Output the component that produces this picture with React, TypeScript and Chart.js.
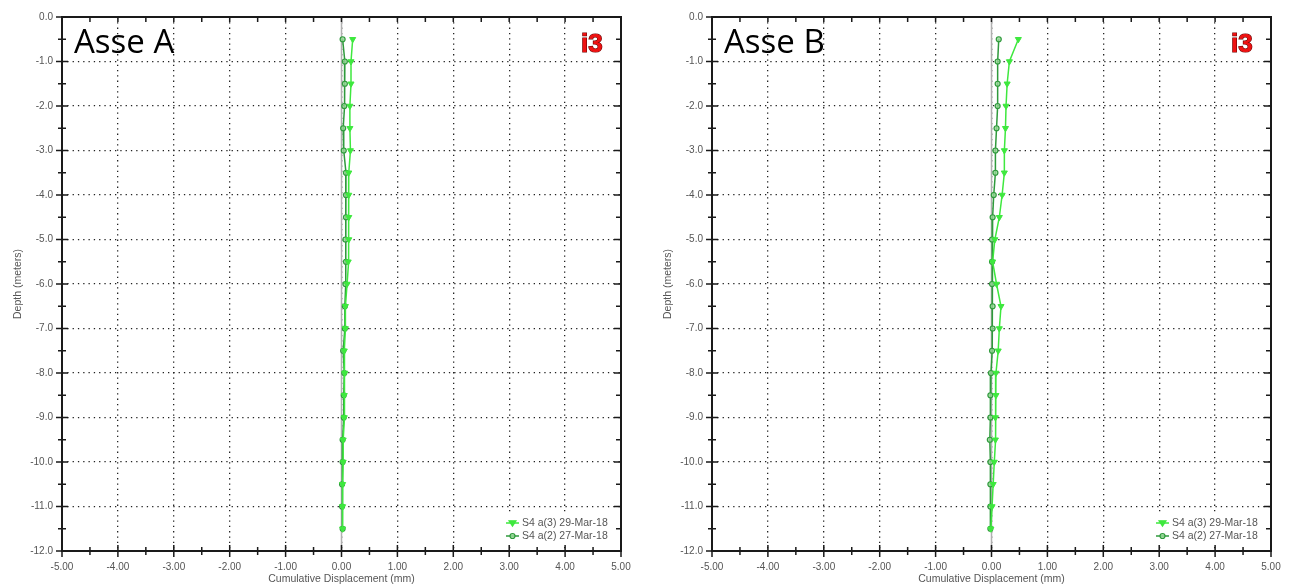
import { useEffect, useRef } from "react";
import { Chart, registerables } from "chart.js";
Chart.register(...registerables);

const DEPTHS = [-0.5, -1.0, -1.5, -2.0, -2.5, -3.0, -3.5, -4.0, -4.5, -5.0, -5.5, -6.0, -6.5, -7.0, -7.5, -8.0, -8.5, -9.0, -9.5, -10.0, -10.5, -11.0, -11.5];

const A_A3 = [0.2, 0.17, 0.17, 0.15, 0.15, 0.16, 0.13, 0.13, 0.13, 0.13, 0.12, 0.1, 0.07, 0.07, 0.05, 0.06, 0.05, 0.05, 0.03, 0.03, 0.02, 0.02, 0.02];
const A_A2 = [0.02, 0.06, 0.06, 0.05, 0.03, 0.04, 0.08, 0.08, 0.08, 0.07, 0.08, 0.07, 0.06, 0.06, 0.03, 0.05, 0.04, 0.04, 0.02, 0.02, 0.01, 0.01, 0.02];

const B_A3 = [0.48, 0.32, 0.28, 0.26, 0.25, 0.23, 0.23, 0.19, 0.14, 0.06, 0.02, 0.09, 0.17, 0.14, 0.12, 0.08, 0.08, 0.07, 0.07, 0.05, 0.03, 0.01, -0.01];
const B_A2 = [0.13, 0.11, 0.11, 0.11, 0.09, 0.07, 0.07, 0.04, 0.02, 0.01, 0.01, 0.01, 0.02, 0.02, 0.01, -0.01, -0.02, -0.02, -0.03, -0.02, -0.02, -0.02, -0.02];

const LABEL_A3 = "S4 a(3) 29-Mar-18";
const LABEL_A2 = "S4 a(2) 27-Mar-18";
const X_TITLE = "Cumulative Displacement (mm)";
const Y_TITLE = "Depth (meters)";

const LIGHT = "#3ee83e";
const DARK = "#2f9a3c";
const DARK_FILL = "rgba(150,215,150,0.8)";
const TEXT = "#555";
const FONT = "'Liberation Sans', Arial, sans-serif";

function drawMarker(ctx: CanvasRenderingContext2D, kind: string, x: number, y: number, color: string, fill: string) {
  ctx.save();
  ctx.strokeStyle = color;
  ctx.fillStyle = fill;
  ctx.lineWidth = 1.2;
  ctx.beginPath();
  if (kind === "tri") {
    ctx.moveTo(x - 3.5, y - 2.2);
    ctx.lineTo(x + 3.5, y - 2.2);
    ctx.lineTo(x, y + 3.2);
    ctx.closePath();
  } else {
    ctx.arc(x, y, 2.5, 0, Math.PI * 2);
  }
  ctx.fill();
  ctx.stroke();
  ctx.restore();
}

function makePlugin(title: string) {
  return {
    id: "decor",
    beforeDatasetsDraw(chart: any) {
      const { ctx, chartArea, scales } = chart;
      const x0 = scales.x.getPixelForValue(0);
      ctx.save();
      ctx.strokeStyle = "#b0b0b0";
      ctx.lineWidth = 1.5;
      ctx.beginPath();
      ctx.moveTo(x0, chartArea.top);
      ctx.lineTo(x0, chartArea.bottom);
      ctx.stroke();
      ctx.restore();
    },
    afterDraw(chart: any) {
      const { ctx, chartArea, scales } = chart;
      const { left, right, top, bottom } = chartArea;
      const xs = scales.x;
      const ys = scales.y;
      ctx.save();

      // legend (white box hides grid)
      ctx.fillStyle = "#fff";
      ctx.fillRect(503, 514, 114, 30);
      const items = [
        { label: LABEL_A3, color: LIGHT, fill: LIGHT, kind: "tri", y: 523 },
        { label: LABEL_A2, color: DARK, fill: DARK_FILL, kind: "circ", y: 536 },
      ];
      ctx.textAlign = "left";
      ctx.textBaseline = "middle";
      ctx.font = `10.5px ${FONT}`;
      for (const it of items) {
        ctx.strokeStyle = it.color;
        ctx.lineWidth = 1.5;
        ctx.beginPath();
        ctx.moveTo(506, it.y);
        ctx.lineTo(519, it.y);
        ctx.stroke();
        drawMarker(ctx, it.kind, 512.5, it.y, it.color, it.fill);
        ctx.fillStyle = TEXT;
        ctx.fillText(it.label, 522, it.y + 0.5);
      }

      // frame
      ctx.strokeStyle = "#1a1a1a";
      ctx.lineWidth = 2;
      ctx.strokeRect(left, top, right - left, bottom - top);
      // ticks
      ctx.lineWidth = 1.5;
      ctx.beginPath();
      for (let i = -10; i <= 10; i++) {
        const v = i / 2;
        const px = xs.getPixelForValue(v);
        const major = i % 2 === 0;
        const l = major ? 6 : 4;
        ctx.moveTo(px, bottom - l);
        ctx.lineTo(px, bottom + l);
        ctx.moveTo(px, top);
        ctx.lineTo(px, top + 5);
      }
      for (let i = 0; i <= 24; i++) {
        const v = -i / 2;
        const py = ys.getPixelForValue(v);
        const major = i % 2 === 0;
        const l = major ? 6 : 4;
        ctx.moveTo(left - l, py);
        ctx.lineTo(left + l, py);
        ctx.moveTo(right, py);
        ctx.lineTo(right - (major ? 7 : 5), py);
      }
      ctx.stroke();

      // axis titles
      ctx.fillStyle = TEXT;
      ctx.font = `10.5px ${FONT}`;
      ctx.textAlign = "center";
      ctx.textBaseline = "middle";
      ctx.fillText(X_TITLE, (left + right) / 2, 579);
      ctx.save();
      ctx.translate(18, (top + bottom) / 2);
      ctx.rotate(-Math.PI / 2);
      ctx.fillText(Y_TITLE, 0, 0);
      ctx.restore();

      // big title
      ctx.fillStyle = "#000";
      ctx.textAlign = "left";
      ctx.textBaseline = "alphabetic";
      ctx.font = `33px 'Open Sans', sans-serif`;
      ctx.fillText(title, 74, 53);

      // i3 logo
      ctx.font = `bold 26px ${FONT}`;
      ctx.lineWidth = 1.2;
      ctx.strokeStyle = "#6a0000";
      ctx.fillStyle = "#ee1111";
      ctx.strokeText("i3", 581, 52);
      ctx.fillText("i3", 581, 52);
      ctx.restore();
    },
  };
}

function buildConfig(title: string, a3: number[], a2: number[]): any {
  const tickFont = { family: FONT, size: 10 };
  return {
    type: "scatter",
    data: {
      datasets: [
        {
          label: LABEL_A3,
          order: 0,
          data: DEPTHS.map((d, i) => ({ x: a3[i], y: d })),
          showLine: true,
          borderColor: LIGHT,
          backgroundColor: LIGHT,
          borderWidth: 1.5,
          pointStyle: "triangle",
          rotation: 180,
          pointRadius: 3.5,
          pointBorderWidth: 1,
        },
        {
          label: LABEL_A2,
          order: 1,
          data: DEPTHS.map((d, i) => ({ x: a2[i], y: d })),
          showLine: true,
          borderColor: DARK,
          backgroundColor: DARK_FILL,
          borderWidth: 1.5,
          pointStyle: "circle",
          pointRadius: 2.5,
          pointBorderWidth: 1.2,
        },
      ],
    },
    options: {
      responsive: false,
      animation: false,
      devicePixelRatio: 1,
      layout: { padding: { left: 0, top: 17, right: 24, bottom: 0 } },
      plugins: { legend: { display: false }, tooltip: { enabled: false } },
      scales: {
        x: {
          type: "linear",
          min: -5,
          max: 5,
          afterFit: (s: any) => {
            s.height = 37;
          },
          ticks: {
            stepSize: 1,
            callback: (v: any) => Number(v).toFixed(2),
            font: tickFont,
            color: TEXT,
            padding: 10,
            maxRotation: 0,
            autoSkip: false,
          },
          grid: { color: "#222", lineWidth: 1.3, drawTicks: false },
          border: { display: false, dash: [1.3, 4] },
        },
        y: {
          type: "linear",
          min: -12,
          max: 0,
          afterFit: (s: any) => {
            s.width = 62;
          },
          ticks: {
            stepSize: 1,
            callback: (v: any) => Number(v).toFixed(1),
            font: tickFont,
            color: TEXT,
            padding: 9,
            autoSkip: false,
          },
          grid: { color: "#222", lineWidth: 1.3, drawTicks: false },
          border: { display: false, dash: [1.3, 4] },
        },
      },
    },
    plugins: [makePlugin(title)],
  };
}

function Panel({ title, a3, a2, left }: { title: string; a3: number[]; a2: number[]; left: number }) {
  const ref = useRef<HTMLCanvasElement | null>(null);
  useEffect(() => {
    if (!ref.current) return;
    const chart = new Chart(ref.current, buildConfig(title, a3, a2));
    return () => chart.destroy();
  }, [title, a3, a2]);
  return (
    <canvas
      ref={ref}
      width={645}
      height={588}
      style={{ position: "absolute", left, top: 0, width: 645, height: 588 }}
    />
  );
}

export default function App() {
  useEffect(() => {
    document.body.style.margin = "0";
  }, []);
  return (
    <div style={{ position: "relative", width: 1295, height: 588, background: "#fff", overflow: "hidden" }}>
      <Panel title="Asse A" a3={A_A3} a2={A_A2} left={0} />
      <Panel title="Asse B" a3={B_A3} a2={B_A2} left={650} />
    </div>
  );
}
